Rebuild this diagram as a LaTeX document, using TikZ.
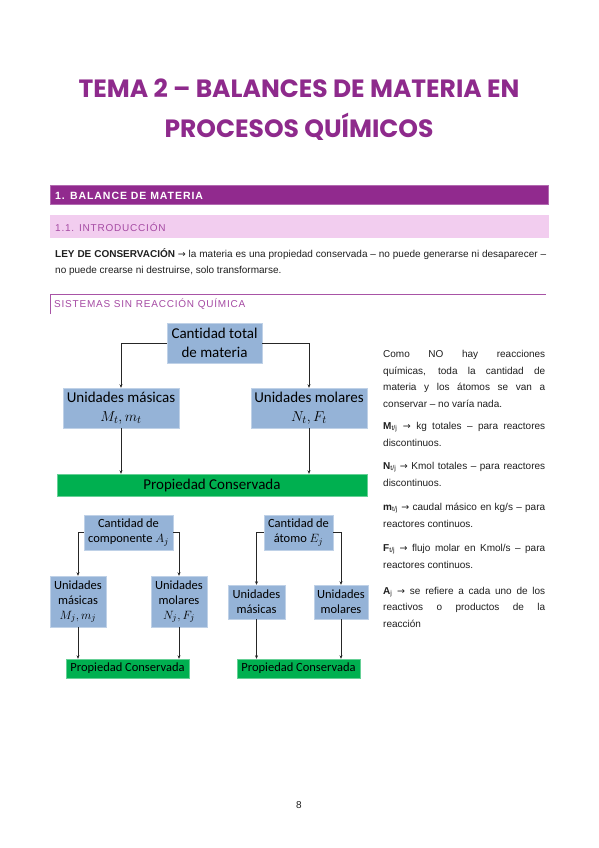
\documentclass[tikz,border=0pt]{standalone}
\usepackage{fontspec}
\setmainfont{Liberation Sans}
\newfontfamily\titlefont{Poppins}
\newfontfamily\calfont{Carlito}[Ligatures=NoCommon]
\newfontfamily\arrowfont{DejaVu Sans}
\newfontfamily\spacedfont{Liberation Sans}[LetterSpace=8]
\newcommand{\arr}{{\arrowfont\fontsize{9.5}{11}\selectfont →}}
\usetikzlibrary{arrows.meta}
\definecolor{darkpurple}{HTML}{912A8E}
\definecolor{titlepurple}{HTML}{8E2A8C}
\definecolor{pinkbar}{HTML}{F2CDEF}
\definecolor{intropurple}{HTML}{A54AA3}
\definecolor{linepurple}{HTML}{A853A6}
\definecolor{boxblue}{HTML}{95B3D7}
\definecolor{boxgreen}{HTML}{00B050}
\definecolor{bodytext}{HTML}{1F1F1F}
\tikzset{
  bluebox/.style={fill=boxblue, draw=boxblue!60!white, line width=0.4pt, inner sep=0pt, align=center, text=black},
  greenbox/.style={fill=boxgreen, draw=boxgreen!60!white, line width=0.4pt, inner sep=0pt, align=center, text=black},
  conn/.style={draw=black!85, line width=0.7pt, -{Stealth[length=3.5pt,width=3pt]}},
  bodyline/.style={anchor=west, inner sep=0pt, text=bodytext, font=\fontsize{10}{12}\selectfont},
  big/.style={font=\calfont\fontsize{15}{18.5}\selectfont},
  small/.style={font=\calfont\fontsize{12.5}{15}\selectfont},
}
\begin{document}
\begin{tikzpicture}[x=1pt, y=-1pt]
\useasboundingbox[fill=white] (0,0) rectangle (599,848);
% Title
\node[text=titlepurple, font=\titlefont\bfseries\fontsize{25}{30}\selectfont] (t1) at (299,88) {TEMA 2 – BALANCES DE MATERIA EN};
\node[text=titlepurple, font=\titlefont\bfseries\fontsize{25}{30}\selectfont] (t2) at (299,127) {PROCESOS QUÍMICOS};
% heading bars
\fill[darkpurple] (50,185) rectangle (549,205);
\draw[darkpurple!70!white, line width=0.6pt] (50.5,185.5) rectangle (548.5,204.5);
\node[anchor=west, inner sep=0pt, text=white, font=\bfseries\fontsize{10.5}{12}\selectfont\addfontfeatures{LetterSpace=9}] (h1) at (55,195.5) {1. BALANCE DE MATERIA};
\fill[pinkbar] (50,215) rectangle (549,238);
\node[anchor=west, inner sep=0pt, text=intropurple, font=\spacedfont\fontsize{10}{12}\selectfont] (h2) at (55,227) {1.1. INTRODUCCIÓN};
% paragraph
\node[bodyline] (p1) at (55,254) {\makebox[491pt][s]{\textbf{LEY DE CONSERVACIÓN} \arr{} la materia es una propiedad conservada – no puede generarse ni desaparecer –}};
\node[bodyline] (p2) at (55,271) {no puede crearse ni destruirse, solo transformarse.};
% section heading
\draw[linepurple, line width=0.8pt] (50,314) -- (50,294) -- (546,294);
\node[anchor=west, inner sep=0pt, text=intropurple, font=\spacedfont\fontsize{10}{12}\selectfont] (h3) at (54,304) {SISTEMAS SIN REACCIÓN QUÍMICA};
% Diagram 1
\node[bluebox, big, minimum width=95pt, minimum height=40pt] (top) at (214.5,343) {Cantidad total\\de materia};
\node[bluebox, big, minimum width=116pt, minimum height=40pt] (lm) at (121,408) {Unidades másicas\\$M_t, m_t$};
\node[bluebox, big, minimum width=116pt, minimum height=40pt] (rm) at (309,408) {Unidades molares\\$N_t, F_t$};
\node[greenbox, big, minimum width=310pt, minimum height=22pt] (g1) at (212,485) {Propiedad Conservada};
\draw[conn] (top.west) -| (lm.north);
\draw[conn] (top.east) -| (rm.north);
\draw[conn] (lm.south) -- (lm.south |- g1.north);
\draw[conn] (rm.south) -- (rm.south |- g1.north);
% Diagram 2
\node[bluebox, small, minimum width=89pt, minimum height=35pt] (comp) at (128.5,532.5) {Cantidad de\\componente $A_j$};
\node[bluebox, small, minimum width=56pt, minimum height=51pt] (um2) at (78,601.5) {Unidades\\másicas\\$M_j, m_j$};
\node[bluebox, small, minimum width=56pt, minimum height=51pt] (umol2) at (179,601.5) {Unidades\\molares\\$N_j, F_j$};
\node[greenbox, small, minimum width=123pt, minimum height=19pt] (g2) at (127.5,668.5) {Propiedad Conservada};
\draw[conn] (comp.west) -| (um2.north);
\draw[conn] (comp.east) -| (umol2.north);
\draw[conn] (um2.south) -- (um2.south |- g2.north);
\draw[conn] (umol2.south) -- (umol2.south |- g2.north);
% Diagram 3
\node[bluebox, small, minimum width=69pt, minimum height=35pt] (atom) at (298.5,532.5) {Cantidad de\\átomo $E_j$};
\node[bluebox, small, minimum width=57pt, minimum height=34pt] (um3) at (256.5,602) {Unidades\\másicas};
\node[bluebox, small, minimum width=54pt, minimum height=34pt] (umol3) at (341,602) {Unidades\\molares};
\node[greenbox, small, minimum width=123pt, minimum height=19pt] (g3) at (298.5,668.5) {Propiedad Conservada};
\draw[conn] (atom.west) -| (um3.north);
\draw[conn] (atom.east) -| (umol3.north);
\draw[conn] (um3.south) -- (um3.south |- g3.north);
\draw[conn] (umol3.south) -- (umol3.south |- g3.north);
% Right column
\node[bodyline] (r1) at (383,355) {\makebox[162pt][s]{Como NO hay reacciones}};
\node[bodyline] (r2) at (383,372) {\makebox[162pt][s]{químicas, toda la cantidad de}};
\node[bodyline] (r3) at (383,388) {\makebox[162pt][s]{materia y los átomos se van a}};
\node[bodyline] (r4) at (383,404) {conservar – no varía nada.};
\node[bodyline] (r5) at (383,427) {\makebox[162pt][s]{\textbf{M}\textsubscript{t/j} \arr{} kg totales – para reactores}};
\node[bodyline] (r6) at (383,443) {discontinuos.};
\node[bodyline] (r7) at (383,467) {\makebox[162pt][s]{\textbf{N}\textsubscript{t/j} \arr{} Kmol totales – para reactores}};
\node[bodyline] (r8) at (383,483) {discontinuos.};
\node[bodyline] (r9) at (383,508) {\makebox[162pt][s]{\textbf{m}\textsubscript{t/j} \arr{} caudal másico en kg/s – para}};
\node[bodyline] (r10) at (383,524) {reactores continuos.};
\node[bodyline] (r11) at (383,549) {\makebox[162pt][s]{\textbf{F}\textsubscript{t/j} \arr{} flujo molar en Kmol/s – para}};
\node[bodyline] (r12) at (383,565) {reactores continuos.};
\node[bodyline] (r13) at (383,592) {\makebox[162pt][s]{\textbf{A}\textsubscript{j} \arr{} se refiere a cada uno de los}};
\node[bodyline] (r14) at (383,608) {\makebox[162pt][s]{reactivos o productos de la}};
\node[bodyline] (r15) at (383,624) {reacción};
% page number
\node[text=bodytext, font=\fontsize{10}{12}\selectfont] (pg) at (299,805) {8};
\end{tikzpicture}
\end{document}
